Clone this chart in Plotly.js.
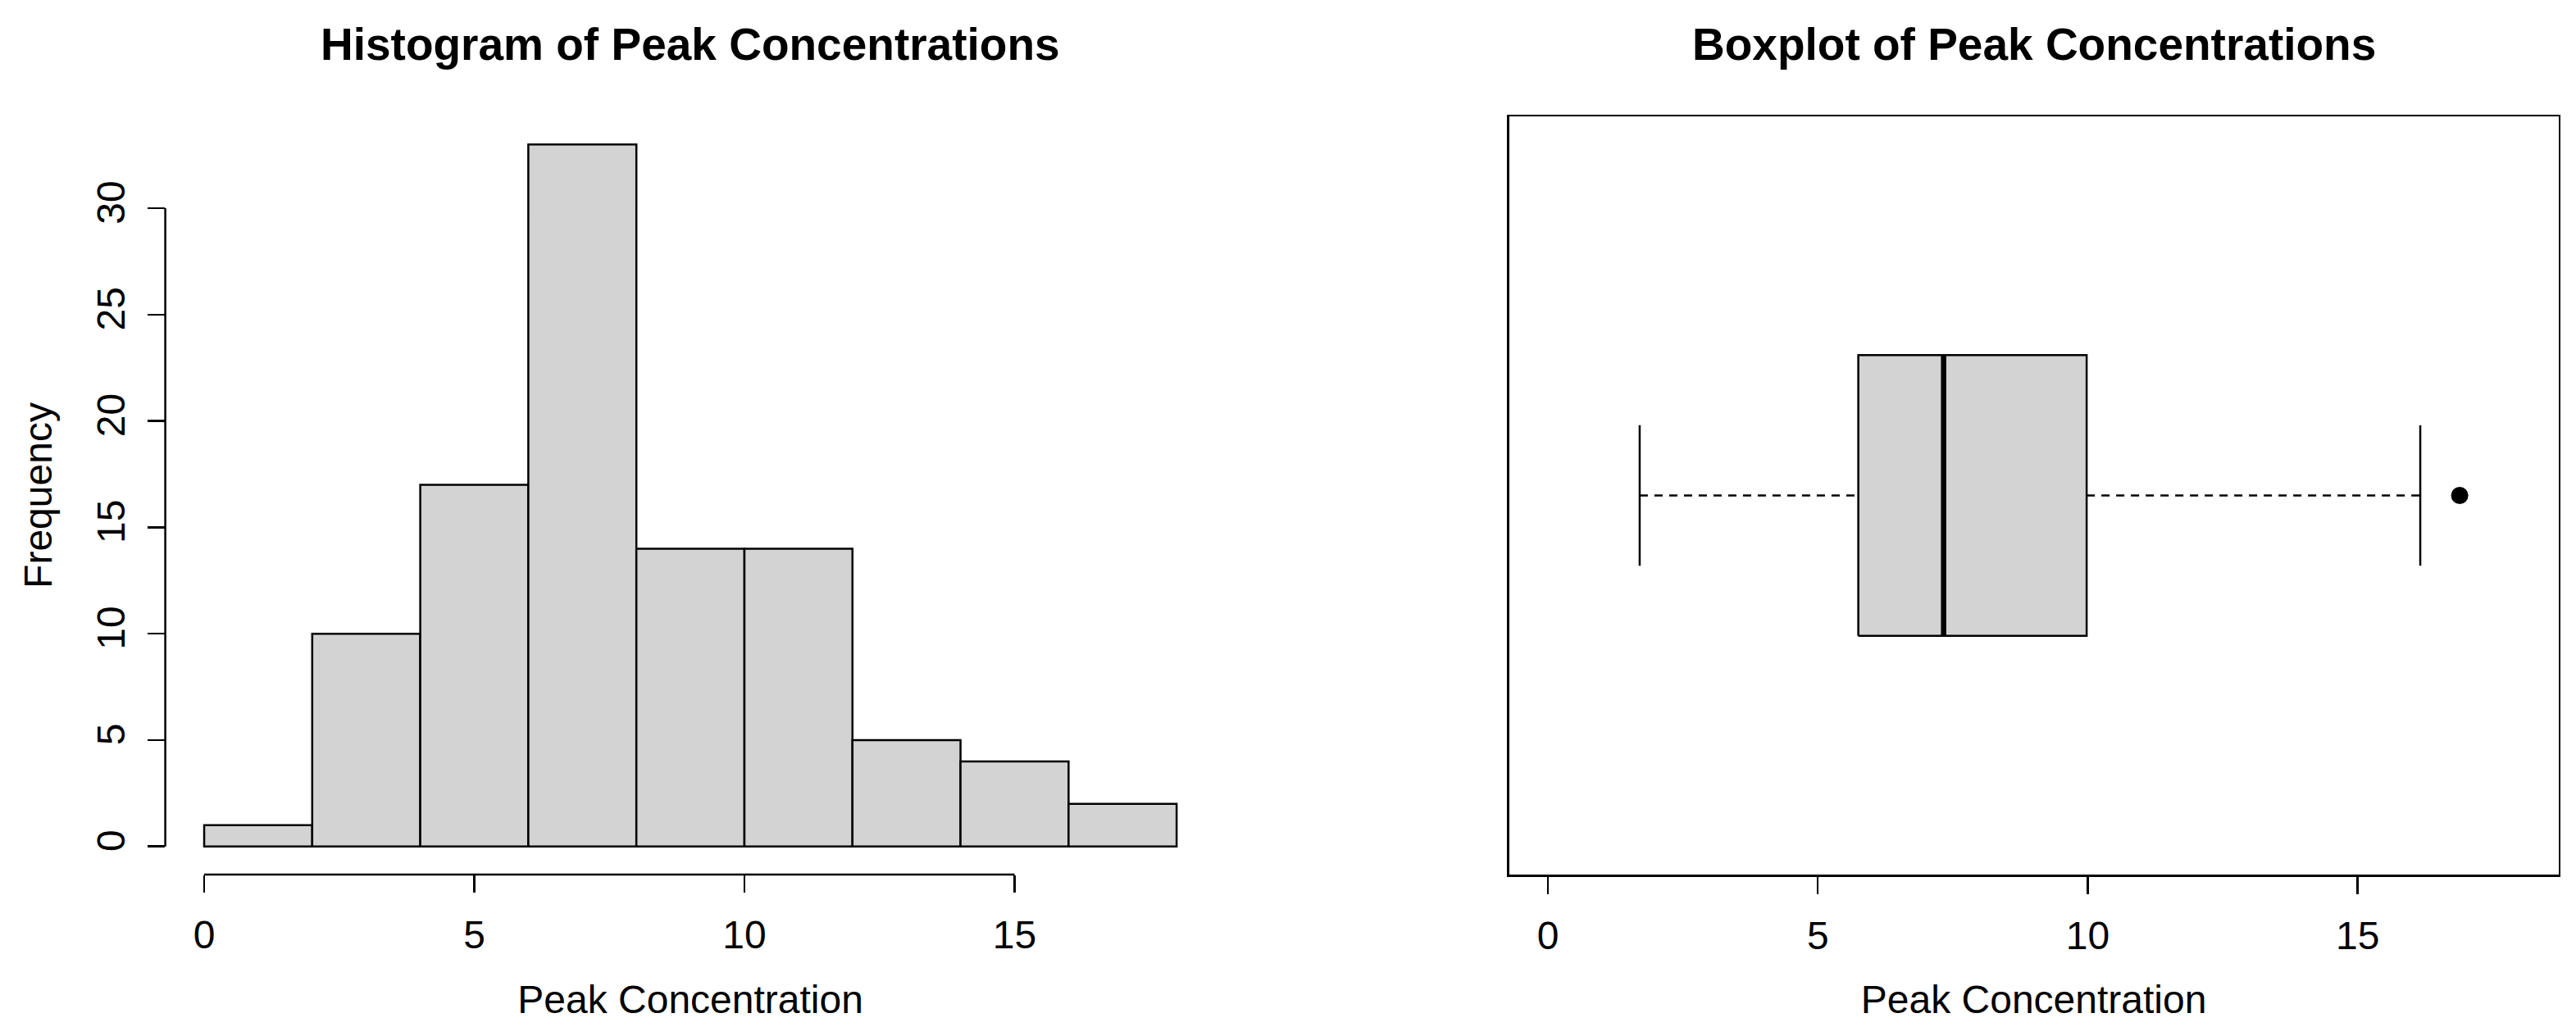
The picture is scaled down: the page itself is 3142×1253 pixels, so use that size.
<!DOCTYPE html>
<html>
<head>
<meta charset="utf-8">
<script src="https://cdn.plot.ly/plotly-3.0.1.min.js"></script>
<style>
html,body{margin:0;padding:0;background:#ffffff;}
#chart{width:3142px;height:1253px;}
</style>
</head>
<body>
<div id="chart"></div>
<script>
// ---- data ----
const binBreaks = [0, 2, 4, 6, 8, 10, 12, 14, 16, 18];
const binCounts = [1, 10, 17, 33, 14, 14, 5, 4, 2];
const xTickVals = [0, 5, 10, 15];
const yTickVals = [0, 5, 10, 15, 20, 25, 30];

const boxLowerWhisker = 1.70;
const boxQ1 = 5.75;
const boxMedian = 7.33;
const boxQ3 = 9.98;
const boxUpperWhisker = 16.16;
const boxOutliers = [16.89];

const histTitle = "Histogram of Peak Concentrations";
const boxTitle = "Boxplot of Peak Concentrations";
const xLabel = "Peak Concentration";
const yLabel = "Frequency";

// ---- styling ----
const FONT = "Liberation Sans, Arial, Helvetica, sans-serif";
const GRAY = "#D3D3D3";
const LW = 2.5;
const BOXC = 1;      // box centre on the category axis
const BOXH = 0.2;    // half box height
const STAPH = 0.1;   // half staple height

const binMids = binCounts.map((c, i) => (binBreaks[i] + binBreaks[i + 1]) / 2);
const binWidths = binCounts.map((c, i) => binBreaks[i + 1] - binBreaks[i]);

const traces = [
  {
    type: "bar", x: binMids, y: binCounts, width: binWidths,
    marker: {color: GRAY, line: {color: "#000", width: LW}},
    xaxis: "x", yaxis: "y", hoverinfo: "x+y", showlegend: false
  },
  // box body
  {
    type: "scatter", mode: "lines",
    x: [boxQ1, boxQ3, boxQ3, boxQ1, boxQ1],
    y: [BOXC - BOXH, BOXC - BOXH, BOXC + BOXH, BOXC + BOXH, BOXC - BOXH],
    fill: "toself", fillcolor: GRAY, line: {color: "#000", width: LW},
    xaxis: "x2", yaxis: "y2", showlegend: false, hoverinfo: "skip"
  },
  // whiskers (dashed)
  {
    type: "scatter", mode: "lines",
    x: [boxLowerWhisker, boxQ1], y: [BOXC, BOXC],
    line: {color: "#000", width: LW, dash: "10px,8px"},
    xaxis: "x2", yaxis: "y2", showlegend: false, hoverinfo: "skip"
  },
  {
    type: "scatter", mode: "lines",
    x: [boxQ3, boxUpperWhisker], y: [BOXC, BOXC],
    line: {color: "#000", width: LW, dash: "10px,8px"},
    xaxis: "x2", yaxis: "y2", showlegend: false, hoverinfo: "skip"
  },
  // staples
  {
    type: "scatter", mode: "lines",
    x: [boxLowerWhisker, boxLowerWhisker], y: [BOXC - STAPH, BOXC + STAPH],
    line: {color: "#000", width: LW},
    xaxis: "x2", yaxis: "y2", showlegend: false, hoverinfo: "skip"
  },
  {
    type: "scatter", mode: "lines",
    x: [boxUpperWhisker, boxUpperWhisker], y: [BOXC - STAPH, BOXC + STAPH],
    line: {color: "#000", width: LW},
    xaxis: "x2", yaxis: "y2", showlegend: false, hoverinfo: "skip"
  },
  // median
  {
    type: "scatter", mode: "lines",
    x: [boxMedian, boxMedian], y: [BOXC - BOXH, BOXC + BOXH],
    line: {color: "#000", width: 6.5},
    xaxis: "x2", yaxis: "y2", showlegend: false, hoverinfo: "x"
  },
  // outliers
  {
    type: "scatter", mode: "markers",
    x: boxOutliers, y: boxOutliers.map(() => BOXC),
    marker: {color: "#000", size: 21, symbol: "circle"},
    xaxis: "x2", yaxis: "y2", showlegend: false, hoverinfo: "x"
  }
];

const tickFont = {family: FONT, size: 48, color: "#000"};
const titleFont = {family: FONT, size: 48, color: "#000"};

const layout = {
  width: 3142, height: 1253,
  margin: {l: 0, r: 0, t: 0, b: 0},
  paper_bgcolor: "#fff", plot_bgcolor: "#fff",
  font: {family: FONT, color: "#000"},
  showlegend: false,
  xaxis: {
    domain: [0.06416, 0.47186], anchor: "y",
    range: [-0.72, 18.72], showgrid: false, zeroline: false, showline: false,
    tickmode: "array", tickvals: xTickVals, ticks: "outside", ticklen: 21,
    tickwidth: LW, tickcolor: "#000", tickfont: tickFont, ticklabelstandoff: 10,
    title: {text: xLabel, font: titleFont, standoff: 36}, automargin: true
  },
  yaxis: {
    domain: [0.14844, 0.88667], anchor: "x",
    range: [-1.32, 34.32], showgrid: false, zeroline: false, showline: false,
    tickmode: "array", tickvals: yTickVals, ticks: "outside", ticklen: 21,
    tickwidth: LW, tickcolor: "#000", tickfont: tickFont, tickangle: -90,
    ticklabelstandoff: 8,
    title: {text: yLabel, font: titleFont, standoff: 30}, automargin: true
  },
  xaxis2: {
    domain: [0.58581, 0.99319], anchor: "y2",
    range: [-0.72, 18.72], showgrid: false, zeroline: false,
    showline: true, mirror: true, linecolor: "#000", linewidth: LW,
    tickmode: "array", tickvals: xTickVals, ticks: "outside", ticklen: 21,
    tickwidth: LW, tickcolor: "#000", tickfont: tickFont, ticklabelstandoff: 10,
    title: {text: xLabel, font: titleFont, standoff: 36}, automargin: true
  },
  yaxis2: {
    domain: [0.14844, 0.88667], anchor: "x2",
    range: [0.46, 1.54], showgrid: false, zeroline: false,
    showline: true, mirror: true, linecolor: "#000", linewidth: LW,
    showticklabels: false, ticks: ""
  },
  shapes: [
    {type: "line", xref: "x", yref: "y domain",
     x0: xTickVals[0], x1: xTickVals[xTickVals.length - 1], y0: 0, y1: 0,
     line: {color: "#000", width: LW}},
    {type: "line", xref: "x domain", yref: "y",
     x0: 0, x1: 0, y0: yTickVals[0], y1: yTickVals[yTickVals.length - 1],
     line: {color: "#000", width: LW}}
  ],
  annotations: [
    {text: "<b>" + histTitle + "</b>", xref: "paper", yref: "paper",
     x: 0.26801, y: 0.9569, xanchor: "center", yanchor: "middle", showarrow: false,
     font: {family: FONT, size: 55, color: "#000"}},
    {text: "<b>" + boxTitle + "</b>", xref: "paper", yref: "paper",
     x: 0.78951, y: 0.9569, xanchor: "center", yanchor: "middle", showarrow: false,
     font: {family: FONT, size: 55, color: "#000"}}
  ]
};

Plotly.newPlot("chart", traces, layout, {displayModeBar: false, staticPlot: true});
</script>
</body>
</html>
